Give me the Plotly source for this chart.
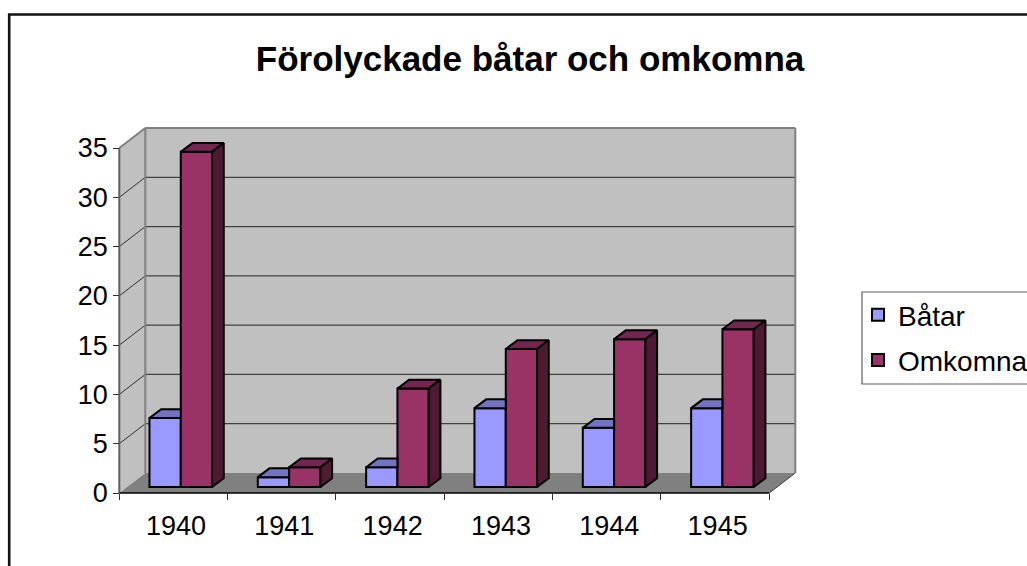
import plotly.graph_objects as go

# ---- data ----
years = ["1940", "1941", "1942", "1943", "1944", "1945"]
batar = [7, 1, 2, 8, 6, 8]
omkomna = [34, 2, 10, 14, 15, 16]
y_ticks = [0, 5, 10, 15, 20, 25, 30, 35]

# ---- pixel frame of the chart ----
W, H = 1027, 566
X0_PX, X1_PX = 119.3, 769.3      # front floor edge: categories
Y0_PX, Y35_PX = 493.0, 148.0     # value 0 and value 35 on the front edge
L, R, T, B = 113.0, 801.0, 124.0, 497.0   # plot-area box (a little larger than the walls)

cat_px = (X1_PX - X0_PX) / len(years)
val_px = (Y0_PX - Y35_PX) / 35.0
xv = lambda p: -0.5 + (p - X0_PX) / cat_px
yv = lambda p: (Y0_PX - p) / val_px
fx = lambda p: p / W
fy = lambda p: 1 - p / H

# ---- pseudo 3D geometry, in axis units ----
WALL_DX, WALL_DY = 26.0 / cat_px, 20.0 / val_px
BAR_W = 31.3 / cat_px
BAR_SHIFT = 7.3 / cat_px
BAR_BASE = 6.0 / val_px
DEPTH_DX, DEPTH_DY = 11.7 / cat_px, 8.8 / val_px
LABEL_SHIFT = 2.5 / cat_px
x_idx = list(range(len(years)))
xl, xr = -0.5, len(years) - 0.5
top = max(y_ticks)

BLUE, BLUE_TOP = "#9999FF", "#7373BF"
RED, RED_TOP, RED_SIDE = "#993366", "#732650", "#4D1933"
WALL, FLOOR, EDGE = "#C0C0C0", "#808080", "#808080"
FONT = "Liberation Sans"


def poly(points):
    return "M" + "L".join(f"{a},{b}" for a, b in points) + "Z"


def seg(x0, y0, x1, y1, color, width):
    return dict(type="line", xref="x", yref="y", x0=x0, y0=y0, x1=x1, y1=y1, layer="below",
                line=dict(color=color, width=width))


shapes = [
    # chart frame and legend box (their right/bottom sides lie past the page)
    dict(type="rect", xref="paper", yref="paper", x0=fx(9.2), y0=fy(14.5), x1=1.03, y1=-0.03,
         layer="below", line=dict(color="#111111", width=2.6), fillcolor="white"),
    dict(type="rect", xref="paper", yref="paper", x0=fx(862), y0=fy(292), x1=1.03, y1=fy(384),
         layer="below", line=dict(color="#606060", width=1.2), fillcolor="white"),
    # walls and floor
    dict(type="path", xref="x", yref="y", layer="below", fillcolor=WALL, line=dict(width=0),
         path=poly([(xl + WALL_DX, WALL_DY), (xr + WALL_DX, WALL_DY), (xr + WALL_DX, top + WALL_DY), (xl + WALL_DX, top + WALL_DY)])),
    dict(type="path", xref="x", yref="y", layer="below", fillcolor=WALL, line=dict(width=0),
         path=poly([(xl, 0), (xl + WALL_DX, WALL_DY), (xl + WALL_DX, top + WALL_DY), (xl, top)])),
    dict(type="path", xref="x", yref="y", layer="below", fillcolor=FLOOR, line=dict(width=0),
         path=poly([(xl, 0), (xr, 0), (xr + WALL_DX, WALL_DY), (xl + WALL_DX, WALL_DY)])),
]
for v in y_ticks[1:-1]:
    shapes.append(seg(xl, v, xl + WALL_DX, v + WALL_DY, "#303030", 1))
    shapes.append(seg(xl + WALL_DX, v + WALL_DY, xr + WALL_DX, v + WALL_DY, "#404040", 1.2))
shapes += [
    seg(xl + WALL_DX, top + WALL_DY, xr + WALL_DX, top + WALL_DY, EDGE, 2),
    seg(xl, top, xl + WALL_DX, top + WALL_DY, EDGE, 2),
    seg(xl + WALL_DX, WALL_DY, xl + WALL_DX, top + WALL_DY, EDGE, 2),
    seg(xr + WALL_DX, WALL_DY, xr + WALL_DX, top + WALL_DY, EDGE, 2),
    seg(xr, 0, xr + WALL_DX, WALL_DY, "#404040", 1),
    seg(xl, 0, xl, top, "#606060", 2),
    seg(xl, 0, xr, 0, "#000000", 1.5),
]


def faces(values, left, right, side):
    """Return x, y of the faces of each bar, from the series values."""
    xs, ys = [], []
    for i, v in zip(x_idx, values):
        a, b = i + left, i + right
        h = v + BAR_BASE
        if side:
            xs += [b, b + DEPTH_DX, b + DEPTH_DX, b, b, None]
            ys += [BAR_BASE, BAR_BASE + DEPTH_DY, h + DEPTH_DY, h, BAR_BASE, None]
        else:
            bb = b + DEPTH_DX if right > BAR_SHIFT else b
            xs += [a, a + DEPTH_DX, bb, b, a, None]
            ys += [h, h + DEPTH_DY, h + DEPTH_DY, h, h, None]
    return xs, ys


def face_trace(values, left, right, side, color):
    xs, ys = faces(values, left, right, side)
    return go.Scatter(x=xs, y=ys, mode="lines", fill="toself", fillcolor=color,
                      line=dict(color="black", width=2), showlegend=False, hoverinfo="skip")


fig = go.Figure()
fig.add_trace(go.Bar(name="Båtar", x=x_idx, y=batar, base=BAR_BASE, width=BAR_W,
                     offset=BAR_SHIFT - BAR_W, legendgroup="a",
                     marker=dict(color=BLUE, line=dict(color="black", width=2))))
fig.add_trace(go.Bar(name="Omkomna", x=x_idx, y=omkomna, base=BAR_BASE, width=BAR_W,
                     offset=BAR_SHIFT, legendgroup="b",
                     marker=dict(color=RED, line=dict(color="black", width=2))))
fig.add_trace(face_trace(batar, BAR_SHIFT - BAR_W, BAR_SHIFT, False, BLUE_TOP))
fig.add_trace(face_trace(omkomna, BAR_SHIFT, BAR_SHIFT + BAR_W, False, RED_TOP))
fig.add_trace(face_trace(omkomna, BAR_SHIFT, BAR_SHIFT + BAR_W, True, RED_SIDE))

fig.update_layout(
    width=W, height=H, margin=dict(l=0, r=0, t=0, b=0, autoexpand=False), autosize=False,
    paper_bgcolor="white", plot_bgcolor="rgba(0,0,0,0)",
    barmode="overlay", shapes=shapes,
    font=dict(family=FONT, color="black"),
    title=dict(text="<b>Förolyckade båtar och omkomna</b>", x=fx(530), xanchor="center",
               y=fy(59), yanchor="middle", font=dict(family=FONT, size=35, color="black")),
    legend=dict(x=fx(858), xanchor="left", y=fy(290), yanchor="top", bgcolor="rgba(0,0,0,0)",
                font=dict(family=FONT, size=28, color="black"), tracegroupgap=6,
                entrywidth=125, entrywidthmode="pixels"),
    xaxis=dict(domain=[fx(L), fx(R)], range=[xv(L), xv(R)], anchor="free", position=fy(Y0_PX),
               tickmode="array", tickvals=[i + LABEL_SHIFT for i in x_idx], ticktext=years, ticks="",
               showgrid=False, zeroline=False, showline=False,
               tickfont=dict(family=FONT, size=27, color="black"), ticklabelstandoff=14,
               minor=dict(tickmode="array", tickvals=[i - 0.5 for i in range(len(years) + 1)],
                          ticks="outside", ticklen=6, tickwidth=1, tickcolor="#303030", showgrid=False)),
    yaxis=dict(domain=[fy(B), fy(T)], range=[yv(B), yv(T)], anchor="free", position=fx(X0_PX),
               tickmode="array", tickvals=y_ticks, ticks="outside", ticklen=6, tickwidth=1,
               tickcolor="#303030", showgrid=False, zeroline=False, showline=False,
               tickfont=dict(family=FONT, size=27, color="black")),
)

fig.write_html("out.html", config=dict(displayModeBar=False),
               post_script="document.body.style.margin='0';document.body.style.overflow='hidden';")
